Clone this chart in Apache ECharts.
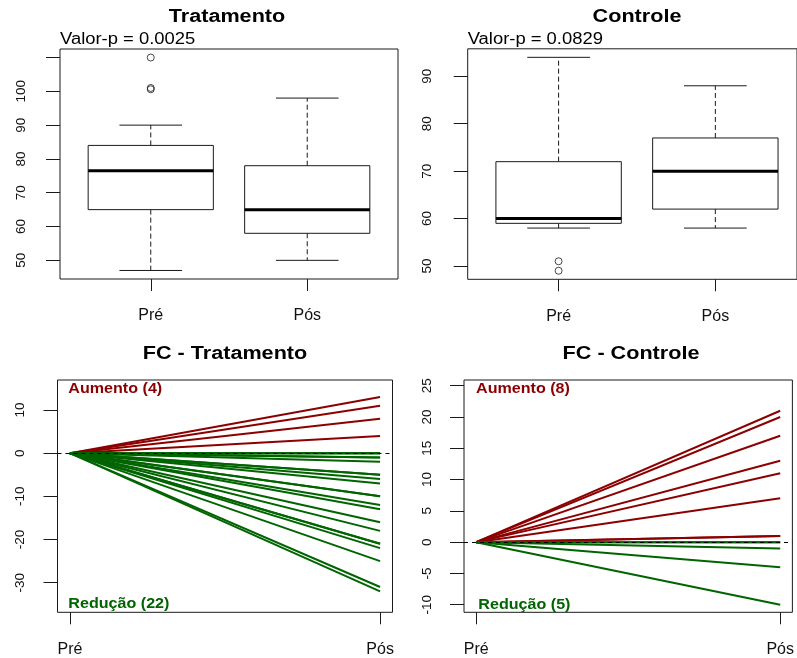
<!DOCTYPE html>
<html>
<head>
<meta charset="utf-8">
<script src="https://cdn.jsdelivr.net/npm/echarts@6/dist/echarts.min.js"></script>
<style>
html,body{margin:0;padding:0;background:#fff;}
#chart{width:797px;height:658px;}
</style>
</head>
<body>
<div id="chart"></div>
<script>
// ---- data ----
const boxCategories = ['Pré', 'Pós'];
// [lower whisker, Q1, median, Q3, upper whisker]
const tratStats = [[47, 65, 76.5, 84, 90], [50, 58, 65, 78, 98]];
const tratOutliers = [[1, 110], [1, 101], [1, 100.6]];
const ctrlStats = [[58, 59, 60, 72, 94], [58, 62, 70, 77, 88]];
const ctrlOutliers = [[1, 51], [1, 49]];
const pTrat = 'Valor-p = 0.0025';
const pCtrl = 'Valor-p = 0.0829';
const fcTratDiff = [13, 11, 8, 4, 0, 0, 0, -1, -1, -2, -5, -5, -6, -7, -10, -10, -12, -13, -16, -18, -21, -21, -22, -25, -31, -32];
const fcCtrlDiff = [21, 20, 17, 13, 11, 7, 1, 1, 0, 0, -1, -4, -10];
const tratYTicks = [50, 60, 70, 80, 90, 100, 110];
const tratYLabels = [50, 60, 70, 80, 90, 100];
const ctrlYTicks = [50, 60, 70, 80, 90];
const fcTratYTicks = [-30, -20, -10, 0, 10];
const fcCtrlYTicks = [-10, -5, 0, 5, 10, 15, 20, 25];
const titles = ['Tratamento', 'Controle', 'FC - Tratamento', 'FC - Controle'];

// ---- styling ----
const FONT = '"Liberation Sans", Arial, sans-serif';
const INK = '#1a1a1a';
const RED = '#8B0000';
const GREEN = '#006400';

const chart = echarts.init(document.getElementById('chart'), null, {renderer: 'canvas'});

function xAxisFor(gi, min, max) {
  return {
    gridIndex: gi, type: 'value', min: min, max: max, position: 'bottom',
    axisLine: {show: false, onZero: false}, splitLine: {show: false},
    axisTick: {show: true, length: 12, inside: false, customValues: [1, 2], lineStyle: {color: INK, width: 1}},
    axisLabel: {show: true, customValues: [1, 2], margin: 29, fontSize: 16, fontFamily: FONT, color: '#111',
      formatter: v => boxCategories[Math.round(v) - 1]}
  };
}
function yAxisFor(gi, min, max, ticks, labels, margin) {
  return {
    gridIndex: gi, type: 'value', min: min, max: max, position: 'left',
    axisLine: {show: false, onZero: false}, splitLine: {show: false},
    axisTick: {show: true, length: 14, inside: false, customValues: ticks, lineStyle: {color: INK, width: 1}},
    axisLabel: {show: true, customValues: labels, rotate: 90, margin: margin, fontSize: 13.5, fontFamily: FONT, color: '#111'}
  };
}

function renderBox(params, api) {
  const x = api.value(0);
  const lo = api.coord([x, api.value(1)]);
  const q1 = api.coord([x, api.value(2)]);
  const md = api.coord([x, api.value(3)]);
  const q3 = api.coord([x, api.value(4)]);
  const hi = api.coord([x, api.value(5)]);
  const bw = api.size([0.8, 0])[0];
  const cw = api.size([0.4, 0])[0];
  const cx = lo[0];
  const thin = {stroke: INK, lineWidth: 1};
  return {
    type: 'group',
    children: [
      {type: 'line', shape: {x1: cx, y1: q3[1], x2: cx, y2: hi[1]}, style: Object.assign({lineDash: [5, 3]}, thin)},
      {type: 'line', shape: {x1: cx, y1: q1[1], x2: cx, y2: lo[1]}, style: Object.assign({lineDash: [5, 3]}, thin)},
      {type: 'line', shape: {x1: cx - cw / 2, y1: hi[1], x2: cx + cw / 2, y2: hi[1]}, style: thin},
      {type: 'line', shape: {x1: cx - cw / 2, y1: lo[1], x2: cx + cw / 2, y2: lo[1]}, style: thin},
      {type: 'rect', shape: {x: cx - bw / 2, y: q3[1], width: bw, height: q1[1] - q3[1]}, style: {fill: '#fff', stroke: INK, lineWidth: 1}},
      {type: 'line', shape: {x1: cx - bw / 2, y1: md[1], x2: cx + bw / 2, y2: md[1]}, style: {stroke: '#000', lineWidth: 3}}
    ]
  };
}

function boxSeries(gi, stats) {
  return {
    type: 'custom', xAxisIndex: gi, yAxisIndex: gi, renderItem: renderBox, silent: true,
    encode: {x: 0, y: [1, 2, 3, 4, 5]},
    data: stats.map((s, i) => [i + 1].concat(s))
  };
}
function outlierSeries(gi, pts) {
  return {
    type: 'scatter', xAxisIndex: gi, yAxisIndex: gi, silent: true, symbol: 'circle', symbolSize: 7,
    itemStyle: {color: 'rgba(0,0,0,0)', borderColor: INK, borderWidth: 1},
    data: pts
  };
}
function diffSeries(gi, diffs) {
  const out = diffs.map((v, i) => ({
    type: 'line', xAxisIndex: gi, yAxisIndex: gi, silent: true, symbol: 'none',
    lineStyle: {color: v > 0 ? RED : GREEN, width: 2},
    data: [[1, 0], [2, v]]
  }));
  out[0].markLine = {
    silent: true, symbol: 'none', label: {show: false},
    lineStyle: {color: '#000', type: [4, 4], width: 1},
    data: [{yAxis: 0}]
  };
  return out;
}

function txt(text, x, y, size, bold, color, align, sx) {
  return {
    type: 'text', x: x, y: y, scaleX: sx, silent: true,
    style: {text: text, fontSize: size, fontWeight: bold ? 'bold' : 'normal', fontFamily: FONT,
      fill: color, align: align, verticalAlign: 'middle'}
  };
}

const nUp = a => a.filter(v => v > 0).length;
const nDown = a => a.filter(v => v <= 0).length;

const option = {
  animation: false,
  backgroundColor: '#fff',
  grid: [
    {left: 60, top: 49, width: 338, height: 230, show: true, borderColor: INK, borderWidth: 1, backgroundColor: 'transparent'},
    {left: 467.7, top: 48.8, width: 329.3, height: 230.5, show: true, borderColor: INK, borderWidth: 1, backgroundColor: 'transparent'},
    {left: 57.5, top: 380, width: 335, height: 232.3, show: true, borderColor: INK, borderWidth: 1, backgroundColor: 'transparent'},
    {left: 464, top: 380, width: 336.3, height: 232.3, show: true, borderColor: INK, borderWidth: 1, backgroundColor: 'transparent'}
  ],
  xAxis: [
    xAxisFor(0, 0.42, 2.58),
    xAxisFor(1, 0.42, 2.521),
    xAxisFor(2, 0.96, 2.04),
    xAxisFor(3, 0.96, 2.04)
  ],
  yAxis: [
    yAxisFor(0, 44.48, 112.52, tratYTicks, tratYLabels, 32),
    yAxisFor(1, 47.2, 95.8, ctrlYTicks, ctrlYTicks, 33),
    yAxisFor(2, -36.86, 16.95, fcTratYTicks, fcTratYTicks, 30),
    yAxisFor(3, -11.21, 25.91, fcCtrlYTicks, fcCtrlYTicks, 30)
  ],
  graphic: [
    txt(titles[0], 227, 16.7, 18, true, '#000', 'center', 1.2),
    txt(titles[1], 637, 16.7, 18, true, '#000', 'center', 1.2),
    txt(titles[2], 225, 354, 18, true, '#000', 'center', 1.2),
    txt(titles[3], 631, 354, 18, true, '#000', 'center', 1.2),
    txt(pTrat, 60, 39.5, 16, false, '#000', 'left', 1.15),
    txt(pCtrl, 467.7, 39.5, 16, false, '#000', 'left', 1.15),
    txt('Aumento (' + nUp(fcTratDiff) + ')', 68.3, 389, 14, true, RED, 'left', 1.15),
    txt('Redução (' + nDown(fcTratDiff) + ')', 68.3, 604, 14, true, GREEN, 'left', 1.15),
    txt('Aumento (' + nUp(fcCtrlDiff) + ')', 476, 389, 14, true, RED, 'left', 1.15),
    txt('Redução (' + nDown(fcCtrlDiff) + ')', 478.3, 605, 14, true, GREEN, 'left', 1.15)
  ],
  series: [
    boxSeries(0, tratStats),
    outlierSeries(0, tratOutliers),
    boxSeries(1, ctrlStats),
    outlierSeries(1, ctrlOutliers)
  ].concat(diffSeries(2, fcTratDiff), diffSeries(3, fcCtrlDiff))
};
chart.setOption(option);
</script>
</body>
</html>
